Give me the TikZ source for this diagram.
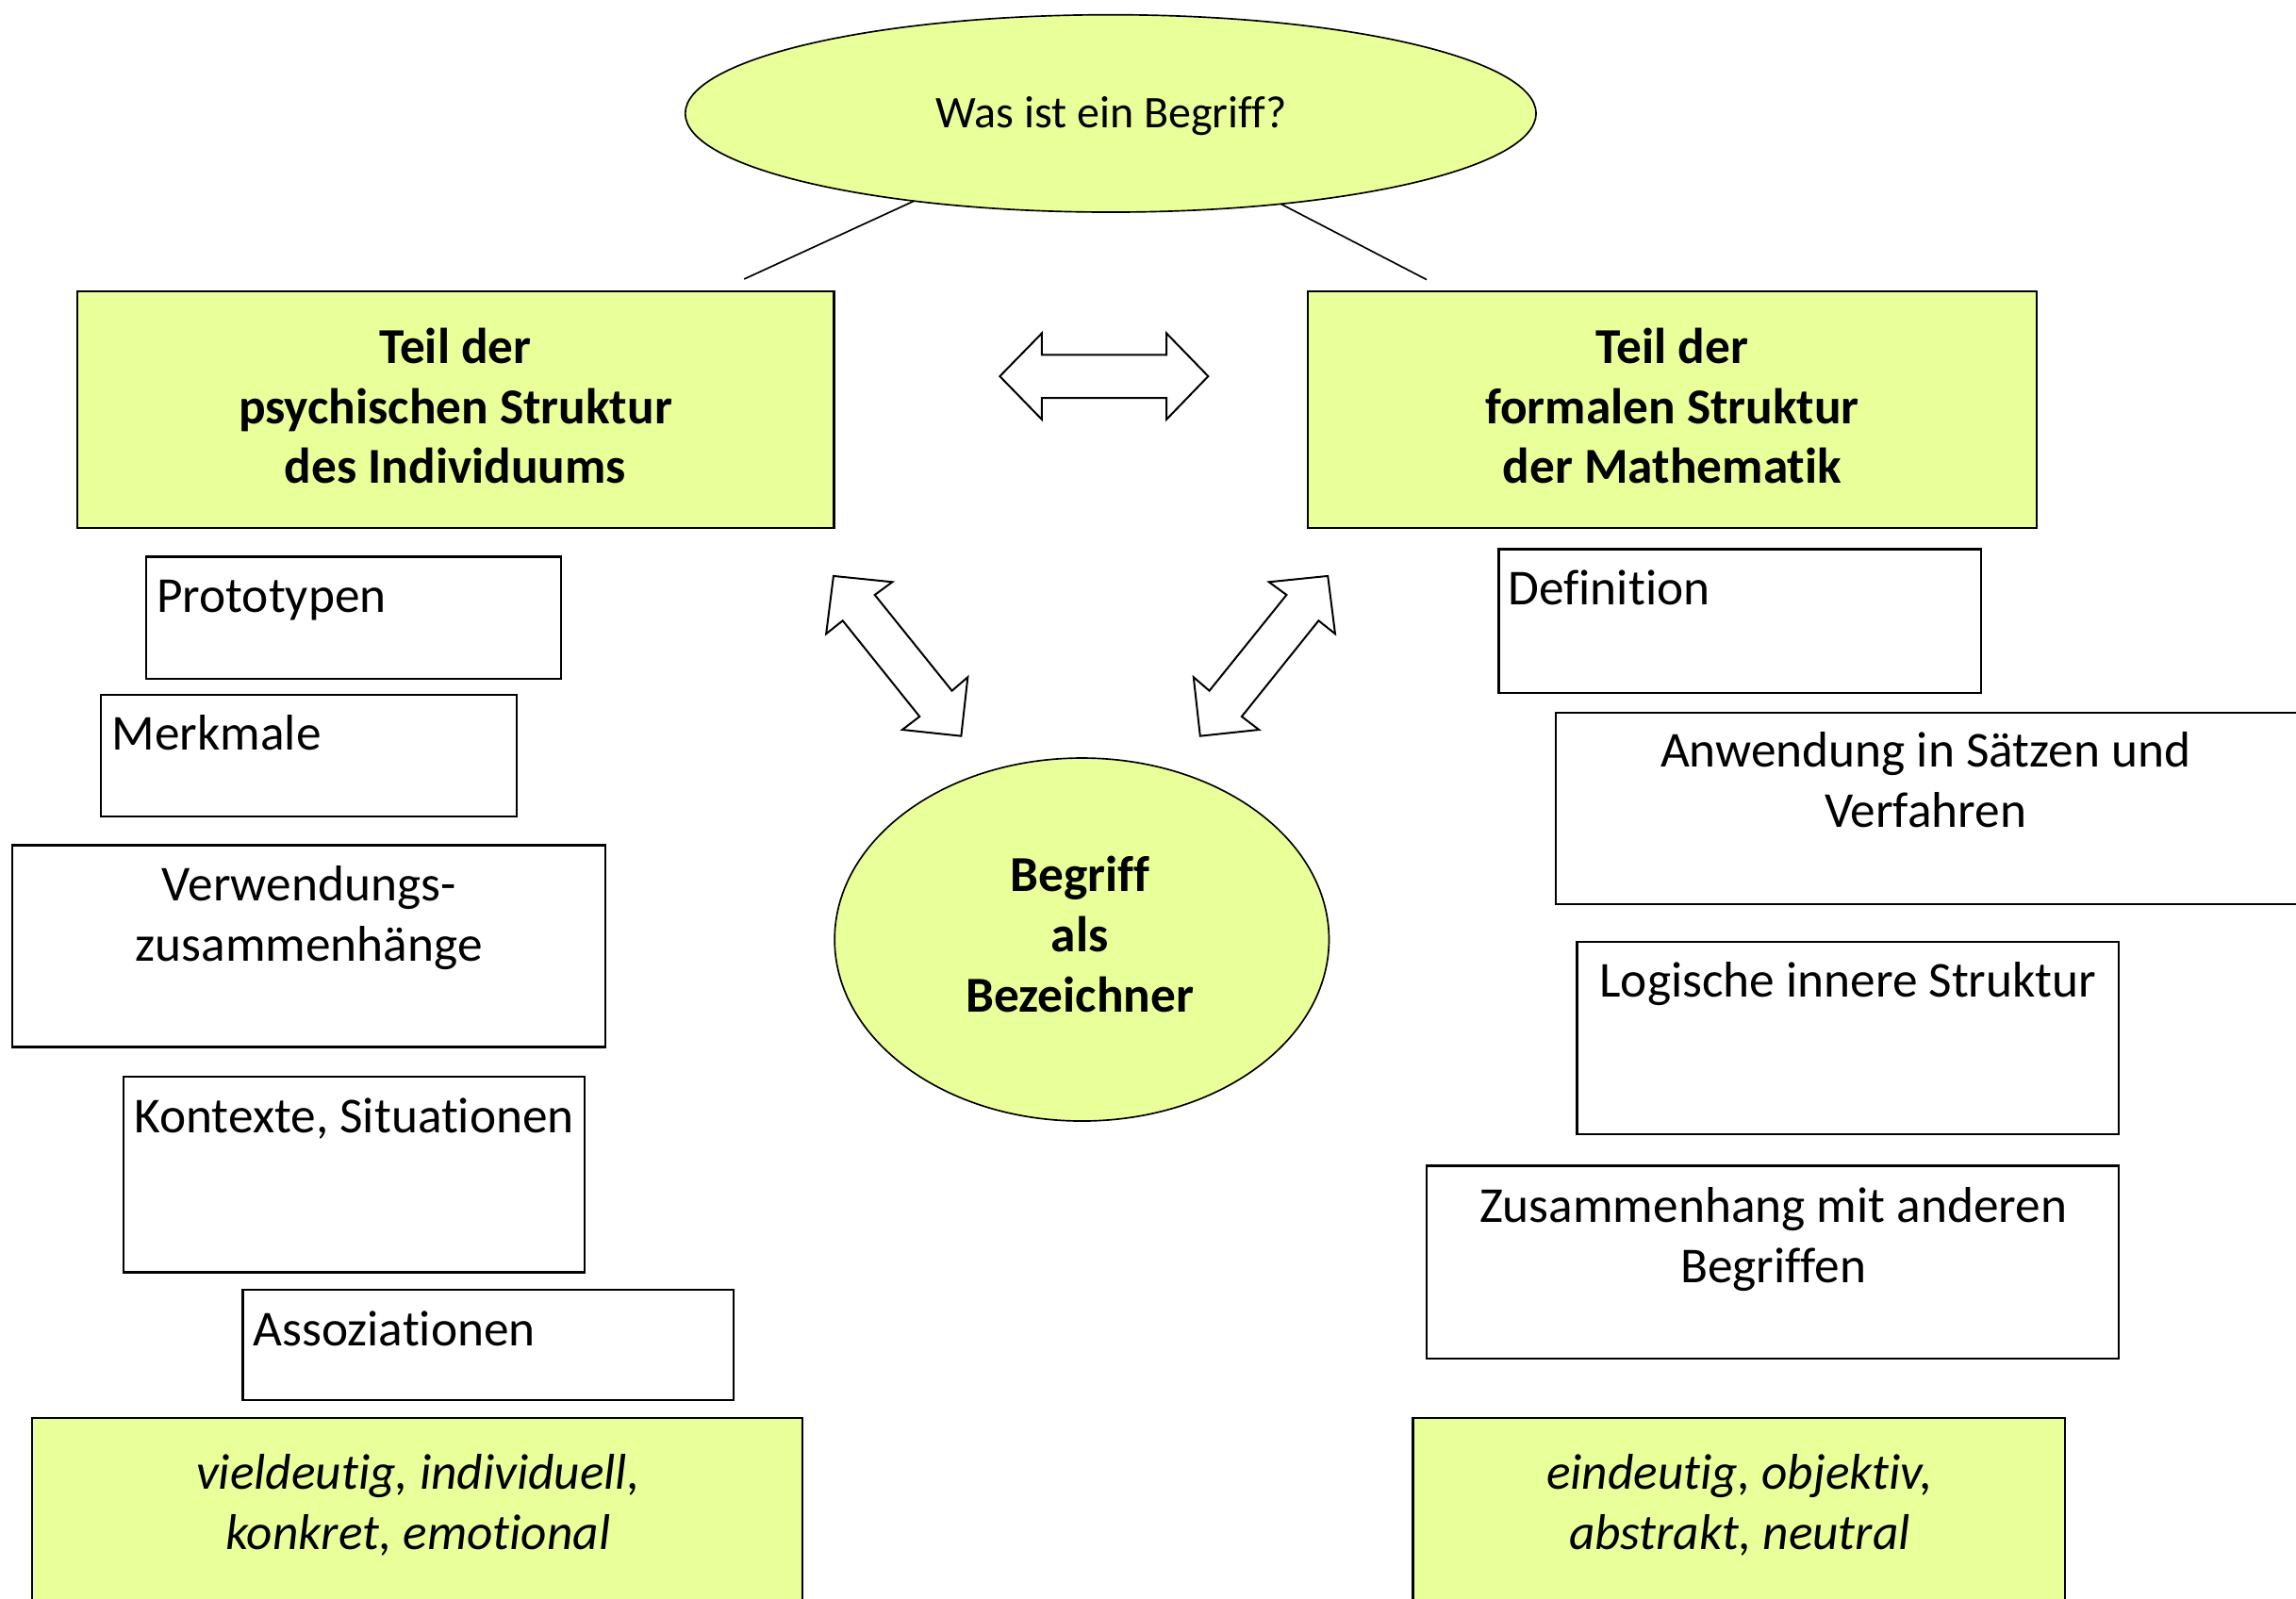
\documentclass[tikz,border=0pt]{standalone}
\usepackage{fontspec}
\setmainfont{Carlito}[Ligatures={NoCommon}]
\usetikzlibrary{shapes.geometric,fit}
\definecolor{myyel}{RGB}{233,255,153}
\newcommand\mytxt{\fontsize{16}{19.1}\selectfont}
\newcommand\mytopt{\fontsize{14.4}{17.3}\selectfont}
\begin{document}
\begin{tikzpicture}[x=0.46588pt, y=-0.46588pt,
  wbox/.style={draw=black, line width=0.7pt, fill=white, inner sep=0pt, outer sep=0pt},
  ybox/.style={draw=black, line width=0.7pt, fill=myyel, inner sep=0pt, outer sep=0pt},
  yell/.style={ellipse, draw=black, line width=0.5pt, fill=myyel, inner sep=0pt, outer sep=0pt},
  lt/.style={inner sep=0pt, outer sep=0pt, anchor=base west, font=\mytxt},
  ct/.style={inner sep=0pt, outer sep=0pt, anchor=base, align=center, font=\mytxt},
  conn/.style={draw=black, line width=0.5pt},
  barrow/.style={draw=black, line width=0.6pt, fill=white, line join=miter}]
\useasboundingbox (0,0) rectangle (1568,1091.5);
\clip (0,0) rectangle (1568,1091.5);

% top ellipse
\node[yell, minimum width=270.7pt, minimum height=62.8pt] (top) at (758.5,77.5) {};
\node[ct, font=\mytopt] (topT) at (759,87) {Was ist ein Begriff?};
\coordinate (l1) at (508.2,190.6);
\coordinate (r1) at (974.3,191);
\draw[conn] (top.204.2) -- (l1);
\draw[conn] (top.332.4) -- (r1);

% main boxes (base anchor = last line baseline)
\node[ybox, fit={(52.9,199) (569.6,360.7)}] (psy) {};
\node[ct, font=\mytxt\bfseries] (psyT) at (311,330.3) {Teil der\\psychischen Struktur\\des Individuums};
\node[ybox, fit={(893,199) (1391,360.7)}] (form) {};
\node[ct, font=\mytxt\bfseries] (formT) at (1142,330.3) {Teil der\\formalen Struktur\\der Mathematik};

% central ellipse
\node[yell, minimum width=157.3pt, minimum height=115.5pt] (mid) at (738.8,641.7) {};
\node[ct, font=\mytxt\bfseries] (midT) at (737.5,691) {Begriff\\als\\Bezeichner};

% block arrows
\draw[barrow] (682.8,257) -- (711.5,227.6) -- (711.5,242.3) -- (796.6,242.3) -- (796.6,227.6)
  -- (825.1,257) -- (796.6,286.5) -- (796.6,271.9) -- (711.5,271.9) -- (711.5,286.5) -- cycle;
\draw[barrow] (569.2,393.4) -- (609.4,397.5) -- (597.4,406.3) -- (650.1,471.8) -- (660.9,462.5)
  -- (656.4,502.7) -- (616.2,498.4) -- (628.0,489.4) -- (575.5,423.9) -- (564.2,432.9) -- cycle;
\draw[barrow] (906.8,393.4) -- (866.6,397.5) -- (878.6,406.3) -- (825.9,471.8) -- (815.1,462.5)
  -- (819.6,502.7) -- (859.8,498.4) -- (848.0,489.4) -- (900.5,423.9) -- (911.8,432.9) -- cycle;

% left column
\node[wbox, fit={(99.8,380.2) (383.3,463.5)}] (proto) {};
\node[lt] (protoT) at (107,418.4) {Prototypen};
\node[wbox, fit={(69.1,474.6) (353,557.8)}] (merk) {};
\node[lt] (merkT) at (76.4,512.5) {Merkmale};
\node[wbox, fit={(8.2,577.3) (413.3,715)}] (verw) {};
\node[ct] (verwT) at (211,656.3) {Verwendungs-\\zusammenhänge};
\node[wbox, fit={(84.4,735.5) (399.2,868.9)}] (kont) {};
\node[lt] (kontT) at (91.8,773.4) {Kontexte, Situationen};
\node[wbox, fit={(165.9,881.1) (501,956.2)}] (asso) {};
\node[lt] (assoT) at (173,919.3) {Assoziationen};
\node[ybox, fit={(22,968.5) (548,1110)}] (viel) {};
\node[ct, font=\mytxt\itshape] (vielT) at (285.5,1058.2) {vieldeutig, individuell,\\konkret, emotional};

% right column
\node[wbox, fit={(1023.5,375) (1352.9,473.1)}] (defi) {};
\node[lt] (defiT) at (1030,413.2) {Definition};
\node[wbox, fit={(1062.7,486.6) (1575,617.5)}] (anw) {};
\node[ct] (anwT) at (1315,565) {Anwendung in Sätzen und\\Verfahren};
\node[wbox, fit={(1077,643.5) (1447.1,774.8)}] (logi) {};
\node[ct] (logiT) at (1262,680.8) {Logische innere Struktur};
\node[wbox, fit={(974.4,796.3) (1447.1,927.9)}] (zus) {};
\node[ct] (zusT) at (1211,876) {Zusammenhang mit anderen\\Begriffen};
\node[ybox, fit={(965,968.5) (1410,1110)}] (eind) {};
\node[ct, font=\mytxt\itshape] (eindT) at (1188,1058.2) {eindeutig, objektiv,\\abstrakt, neutral};
\end{tikzpicture}
\end{document}
